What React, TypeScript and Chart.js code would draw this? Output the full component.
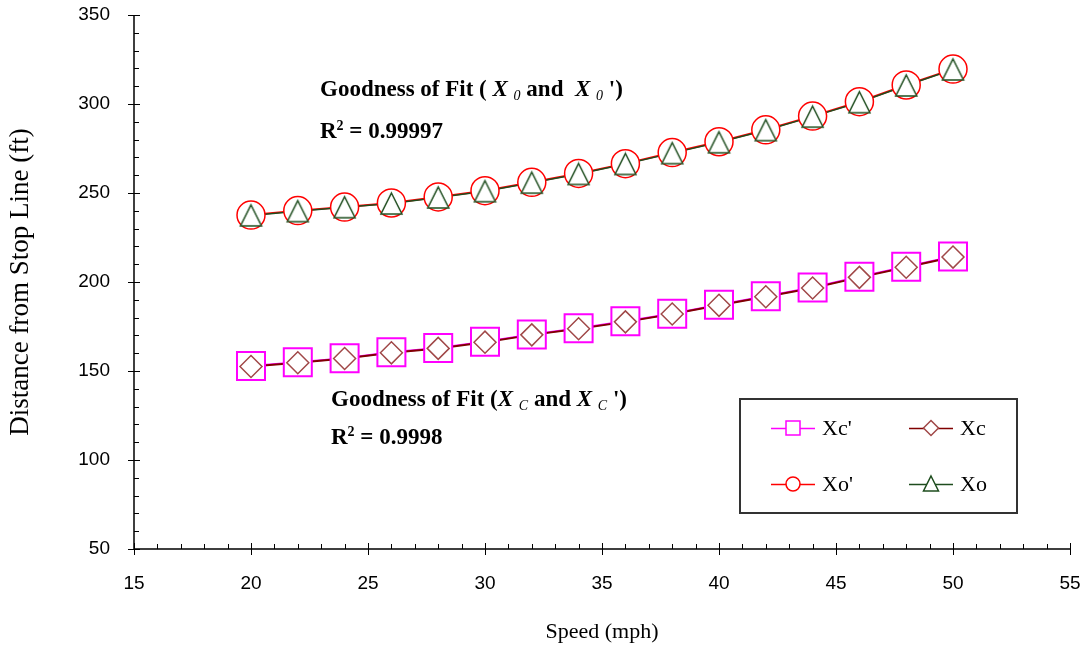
import React, { useEffect, useRef } from 'react';
import { Chart, registerables } from 'chart.js';

Chart.register(...registerables);

// ---------------- data ----------------
const speeds = [20, 22, 24, 26, 28, 30, 32, 34, 36, 38, 40, 42, 44, 46, 48, 50];
const xcPrime = [152.8, 154.9, 157.2, 160.5, 162.9, 166.5, 170.5, 174.0, 177.9, 182.2, 187.2, 192.0, 196.9, 202.9, 208.6, 214.3];
const xc = [152.5, 154.6, 157.0, 160.2, 162.7, 166.2, 170.3, 173.7, 177.6, 182.0, 186.9, 191.7, 196.6, 202.6, 208.3, 214.0];
const xoPrime = [237.6, 240.1, 242.1, 244.4, 247.8, 251.3, 256.0, 261.0, 266.5, 272.7, 278.8, 285.5, 293.2, 301.3, 310.7, 319.6];
const xo = [237.4, 239.8, 242.0, 244.1, 247.5, 251.0, 255.8, 260.7, 266.3, 272.4, 278.5, 285.3, 292.9, 301.0, 310.4, 319.4];

const xRange = [15, 55];
const xMajorStep = 5;
const xMinorStep = 1;
const yRange = [50, 350];
const yMajorStep = 50;
const yMinorStep = 10;

const xTitle = 'Speed (mph)';
const yTitle = 'Distance from Stop Line (ft)';
const legendLabels = ["Xc'", 'Xc', "Xo'", 'Xo'];
const r2Outer = '0.99997';
const r2Close = '0.9998';

// ---------------- styles ----------------
const MAGENTA = '#ff00ff';
const XC_LINE = '#800000';
const XC_MARK = '#a04848';
const RED = '#ff0000';
const GREEN = '#1e4d1e';
const SERIF = '"Liberation Serif", "Times New Roman", serif';
const SANS = '"Liberation Sans", Arial, sans-serif';
const CLEAR = 'rgba(0,0,0,0)';

const toPoints = (ys: number[]) => speeds.map((x, i) => ({ x, y: ys[i] }));

function makeTriangle(w: number, h: number, color: string, lw: number) {
  const c = document.createElement('canvas');
  c.width = w + 4;
  c.height = h + 4;
  const ctx = c.getContext('2d')!;
  ctx.beginPath();
  ctx.moveTo(c.width / 2, 2);
  ctx.lineTo(c.width - 2, h + 2);
  ctx.lineTo(2, h + 2);
  ctx.closePath();
  ctx.fillStyle = '#fff';
  ctx.fill();
  ctx.strokeStyle = color;
  ctx.lineWidth = lw;
  ctx.stroke();
  return c;
}

type Run = { t: string; f: string; dy?: number };

function drawRuns(ctx: CanvasRenderingContext2D, x: number, y: number, runs: Run[]) {
  let cx = x;
  ctx.textBaseline = 'alphabetic';
  ctx.textAlign = 'left';
  ctx.fillStyle = '#000';
  for (const r of runs) {
    ctx.font = r.f;
    ctx.fillText(r.t, cx, y + (r.dy || 0));
    cx += ctx.measureText(r.t).width;
  }
}

const overlayPlugin = {
  id: 'overlay',
  afterDraw(chart: any) {
    const ctx: CanvasRenderingContext2D = chart.ctx;
    const xs = chart.scales.x;
    const ys = chart.scales.y;
    const area = chart.chartArea;
    ctx.save();
    // axes
    ctx.strokeStyle = '#000';
    ctx.lineWidth = 1.5;
    ctx.beginPath();
    ctx.moveTo(area.left, area.top);
    ctx.lineTo(area.left, area.bottom);
    ctx.lineTo(area.right, area.bottom);
    ctx.stroke();
    ctx.lineWidth = 1;
    ctx.beginPath();
    for (let v = xRange[0]; v <= xRange[1] + 1e-9; v += xMinorStep) {
      const px = Math.round(xs.getPixelForValue(v)) + 0.5;
      if (Math.abs(v % xMajorStep) < 1e-9) {
        ctx.moveTo(px, area.bottom - 6);
        ctx.lineTo(px, area.bottom + 6);
      } else {
        ctx.moveTo(px, area.bottom - 5);
        ctx.lineTo(px, area.bottom);
      }
    }
    for (let v = yRange[0]; v <= yRange[1] + 1e-9; v += yMinorStep) {
      const py = Math.round(ys.getPixelForValue(v)) + 0.5;
      if (Math.abs(v % yMajorStep) < 1e-9) {
        ctx.moveTo(area.left - 6, py);
        ctx.lineTo(area.left + 6, py);
      } else {
        ctx.moveTo(area.left, py);
        ctx.lineTo(area.left + 5, py);
      }
    }
    ctx.stroke();

    // annotations
    const B = `bold 23px ${SERIF}`;
    const BI = `italic bold 23px ${SERIF}`;
    const SUB = `italic 14px ${SERIF}`;
    const SUP = `bold 14px ${SERIF}`;
    drawRuns(ctx, 320, 96, [
      { t: 'Goodness of Fit ( ', f: B },
      { t: 'X', f: BI },
      { t: ' ', f: B },
      { t: '0', f: SUB, dy: 4 },
      { t: ' and  ', f: B },
      { t: 'X', f: BI },
      { t: ' ', f: B },
      { t: '0', f: SUB, dy: 4 },
      { t: " ')", f: B },
    ]);
    drawRuns(ctx, 320, 138, [
      { t: 'R', f: B },
      { t: '2', f: SUP, dy: -8 },
      { t: ' = ' + r2Outer, f: B },
    ]);
    drawRuns(ctx, 331, 406, [
      { t: 'Goodness of Fit (', f: B },
      { t: 'X', f: BI },
      { t: ' ', f: B },
      { t: 'C', f: SUB, dy: 4 },
      { t: ' and ', f: B },
      { t: 'X', f: BI },
      { t: ' ', f: B },
      { t: 'C', f: SUB, dy: 4 },
      { t: " ')", f: B },
    ]);
    drawRuns(ctx, 331, 444, [
      { t: 'R', f: B },
      { t: '2', f: SUP, dy: -8 },
      { t: ' = ' + r2Close, f: B },
    ]);

    // legend
    const bx = 740, by = 399, bw = 277, bh = 114;
    ctx.fillStyle = '#fff';
    ctx.fillRect(bx, by, bw, bh);
    ctx.strokeStyle = '#333';
    ctx.lineWidth = 2;
    ctx.strokeRect(bx, by, bw, bh);
    const entries = [
      { label: legendLabels[0], line: MAGENTA, mark: 'square', mc: MAGENTA, cx: 793, cy: 428 },
      { label: legendLabels[1], line: XC_LINE, mark: 'diamond', mc: XC_MARK, cx: 931, cy: 428 },
      { label: legendLabels[2], line: RED, mark: 'circle', mc: RED, cx: 793, cy: 484 },
      { label: legendLabels[3], line: GREEN, mark: 'triangle', mc: GREEN, cx: 931, cy: 484 },
    ];
    for (const e of entries) {
      ctx.strokeStyle = e.line;
      ctx.lineWidth = 1.5;
      ctx.beginPath();
      ctx.moveTo(e.cx - 22, e.cy + 0.5);
      ctx.lineTo(e.cx + 22, e.cy + 0.5);
      ctx.stroke();
      ctx.beginPath();
      if (e.mark === 'square') {
        ctx.rect(e.cx - 7, e.cy - 7, 14, 14);
      } else if (e.mark === 'diamond') {
        ctx.moveTo(e.cx, e.cy - 7.5);
        ctx.lineTo(e.cx + 7.5, e.cy);
        ctx.lineTo(e.cx, e.cy + 7.5);
        ctx.lineTo(e.cx - 7.5, e.cy);
        ctx.closePath();
      } else if (e.mark === 'circle') {
        ctx.arc(e.cx, e.cy, 7, 0, Math.PI * 2);
      } else {
        ctx.moveTo(e.cx, e.cy - 8);
        ctx.lineTo(e.cx + 7.5, e.cy + 7);
        ctx.lineTo(e.cx - 7.5, e.cy + 7);
        ctx.closePath();
      }
      ctx.fillStyle = '#fff';
      ctx.fill();
      ctx.strokeStyle = e.mc;
      ctx.lineWidth = 1.5;
      ctx.stroke();
      ctx.fillStyle = '#000';
      ctx.font = `22px ${SERIF}`;
      ctx.textBaseline = 'alphabetic';
      ctx.textAlign = 'left';
      ctx.fillText(e.label, e.cx + 29, e.cy + 7);
    }
    ctx.restore();
  },
};

export default function App() {
  const ref = useRef<HTMLCanvasElement | null>(null);

  useEffect(() => {
    if (!ref.current) return;
    const tri = makeTriangle(21, 21, GREEN, 1.5);
    const lineDs = (label: string, ys: number[], color: string, order: number, width: number) => ({
      label,
      data: toPoints(ys),
      borderColor: color,
      borderWidth: width,
      pointRadius: 0,
      fill: false,
      tension: 0,
      order,
    });
    const chart = new Chart(ref.current, {
      type: 'line',
      data: {
        datasets: [
          lineDs("Xc' line", xcPrime, MAGENTA, 10, 2),
          lineDs('Xc line', xc, XC_LINE, 9, 2),
          lineDs("Xo' line", xoPrime, RED, 8, 2),
          lineDs('Xo line', xo, GREEN, 7, 1.5),
          {
            label: legendLabels[0],
            data: toPoints(xcPrime),
            showLine: false,
            pointStyle: 'rect',
            pointRadius: 19.8,
            pointBorderWidth: 2,
            pointBorderColor: MAGENTA,
            pointBackgroundColor: '#fff',
            order: 4,
          },
          {
            label: legendLabels[1],
            data: toPoints(xc),
            showLine: false,
            pointStyle: 'rectRot',
            pointRadius: 11,
            pointBorderWidth: 1.5,
            pointBorderColor: XC_MARK,
            pointBackgroundColor: 'rgba(255,255,255,0)',
            order: 3,
          },
          {
            label: legendLabels[2],
            data: toPoints(xoPrime),
            showLine: false,
            pointStyle: 'circle',
            pointRadius: 14,
            pointBorderWidth: 1.5,
            pointBorderColor: RED,
            pointBackgroundColor: '#fff',
            order: 2,
          },
          {
            label: legendLabels[3],
            data: toPoints(xo),
            showLine: false,
            pointStyle: tri as any,
            pointRadius: 12,
            order: 1,
          },
        ],
      },
      options: {
        animation: false,
        responsive: true,
        maintainAspectRatio: false,
        layout: { autoPadding: false, padding: { top: 15, right: 16, left: 0, bottom: 0 } },
        plugins: {
          legend: { display: false },
          tooltip: { enabled: false },
        },
        scales: {
          x: {
            type: 'linear',
            min: xRange[0],
            max: xRange[1],
            ticks: {
              stepSize: xMajorStep,
              color: '#000',
              font: { family: SANS, size: 19 },
              padding: 0,
              maxRotation: 0,
            },
            grid: { display: true, drawOnChartArea: false, drawTicks: true, tickLength: 23, color: CLEAR },
            border: { display: false },
            title: {
              display: true,
              text: xTitle,
              color: '#000',
              font: { family: SERIF, size: 22 },
              padding: { top: 0, bottom: 4 },
            },
            afterFit: (s: any) => {
              s.height = 100;
            },
          },
          y: {
            type: 'linear',
            min: yRange[0],
            max: yRange[1],
            ticks: {
              stepSize: yMajorStep,
              color: '#000',
              font: { family: SANS, size: 19 },
              padding: 0,
            },
            grid: { display: true, drawOnChartArea: false, drawTicks: true, tickLength: 24, color: CLEAR },
            border: { display: false },
            title: {
              display: true,
              text: yTitle,
              color: '#000',
              font: { family: SERIF, size: 27 },
              padding: { top: 5, bottom: 0 },
            },
            afterFit: (s: any) => {
              s.width = 134;
            },
          },
        },
      },
      plugins: [overlayPlugin],
    });
    return () => chart.destroy();
  }, []);

  return (
    <div style={{ position: 'absolute', left: 0, top: 0, width: 1086, height: 649, background: '#fff' }}>
      <canvas ref={ref} />
    </div>
  );
}
